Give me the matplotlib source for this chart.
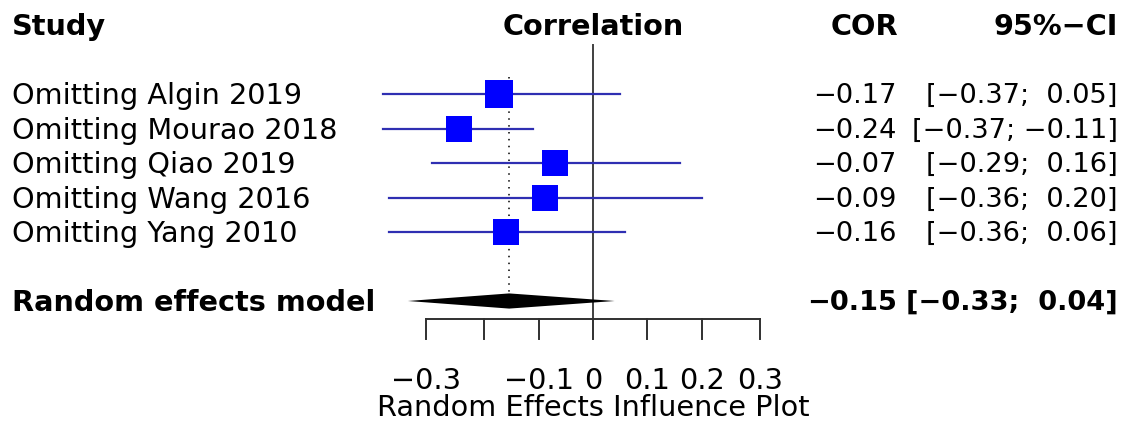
import numpy as np
import matplotlib.pyplot as plt

# leave-one-out results (correlation scale)
studies = ['Omitting Algin 2019', 'Omitting Mourao 2018', 'Omitting Qiao 2019',
           'Omitting Wang 2016', 'Omitting Yang 2010']
cor = [-0.172, -0.244, -0.070, -0.089, -0.160]
lower = [-0.37, -0.37, -0.29, -0.36, -0.36]
upper = [0.05, -0.11, 0.16, 0.20, 0.06]
cor_text = ['−0.17', '−0.24', '−0.07', '−0.09', '−0.16']
ci_text = ['[−0.37;  0.05]', '[−0.37; −0.11]', '[−0.29;  0.16]',
           '[−0.36;  0.20]', '[−0.36;  0.06]']

pooled = -0.154
pooled_lower = -0.33
pooled_upper = 0.04
pooled_cor_text = '−0.15'
pooled_ci_text = '[−0.33;  0.04]'

axis_ticks = [-0.3, -0.2, -0.1, 0.0, 0.1, 0.2, 0.3]
tick_labels = ['−0.3', '', '−0.1', '0', '0.1', '0.2', '0.3']

# square sizes (pixels), style only
square_px = [27.5, 25.5, 26, 27, 26]

W, H = 1129, 430
fig = plt.figure(figsize=(W / 100, H / 100), dpi=100)
ax = fig.add_axes([0, 0, 1, 1])
ax.axis('off')

# layout helpers: x on Fisher-z scale, y in rows
X0, XS = 593, 540
Y0, YS = 25, 34.5


def px(p):
    return (p - X0) / XS


def row(p):
    return (p - Y0) / YS


ax.set_xlim(px(0), px(W))
ax.set_ylim(row(H), row(0))

fs = 20.7      # labels
fs_num = 19.6  # numeric columns
dy = 0.06      # small text drop to sit on the row line
blue_line = '#2f2fb2'
rows = np.arange(len(studies)) + 2
pooled_row = 8
axis_row = row(319)

# reference lines
ax.plot([0, 0], [row(45), axis_row], color='#404040', lw=1.4, zorder=1)
zp = np.arctanh(pooled)
ax.plot([zp, zp], [row(77), pooled_row], color='black', lw=1.1,
        ls=(0, (1, 3.5)), zorder=1)

# study CIs and squares
for i, r in enumerate(rows):
    ax.plot([np.arctanh(lower[i]), np.arctanh(upper[i])], [r, r],
            color=blue_line, lw=1.6, zorder=2)
    ax.plot(np.arctanh(cor[i]), r, marker='s', ms=square_px[i] * 0.72,
            color='#0000ff', mec='#0000ff', mew=0, zorder=3)

# pooled diamond
dh = 0.22
ax.fill([np.arctanh(pooled_lower), zp, np.arctanh(pooled_upper), zp],
        [pooled_row, pooled_row - dh, pooled_row, pooled_row + dh],
        color='black', lw=0, zorder=3)

# x axis
xt = np.arctanh(axis_ticks)
ax.plot([xt[0], xt[-1]], [axis_row, axis_row], color='#303030', lw=1.4)
for t, lab in zip(xt, tick_labels):
    ax.plot([t, t], [axis_row, row(339)], color='#303030', lw=1.4)
    if lab:
        ax.text(t, row(381), lab, ha='center', va='center', fontsize=fs)
ax.text(0, row(408), 'Random Effects Influence Plot', ha='center',
        va='center', fontsize=fs)

# headers
ax.text(px(12), dy, 'Study', ha='left', va='center', fontsize=fs,
        weight='bold')
ax.text(0, dy, 'Correlation', ha='center', va='center', fontsize=fs,
        weight='bold')
ax.text(px(898), dy, 'COR', ha='right', va='center', fontsize=fs,
        weight='bold')
ax.text(px(1118), dy, '95%−CI', ha='right', va='center', fontsize=fs,
        weight='bold')

# study rows
for i, r in enumerate(rows):
    ax.text(px(12), r + dy, studies[i], ha='left', va='center', fontsize=fs)
    ax.text(px(897), r + dy, cor_text[i], ha='right', va='center',
            fontsize=fs_num)
    ax.text(px(1118), r + dy, ci_text[i], ha='right', va='center',
            fontsize=fs_num)

# pooled row
ax.text(px(12), pooled_row + dy, 'Random effects model', ha='left',
        va='center', fontsize=fs, weight='bold')
ax.text(px(897), pooled_row + dy, pooled_cor_text, ha='right', va='center',
        fontsize=fs_num, weight='bold')
ax.text(px(1118), pooled_row + dy, pooled_ci_text, ha='right', va='center',
        fontsize=fs_num, weight='bold')

fig.savefig('out.png', dpi=100, facecolor='white')
